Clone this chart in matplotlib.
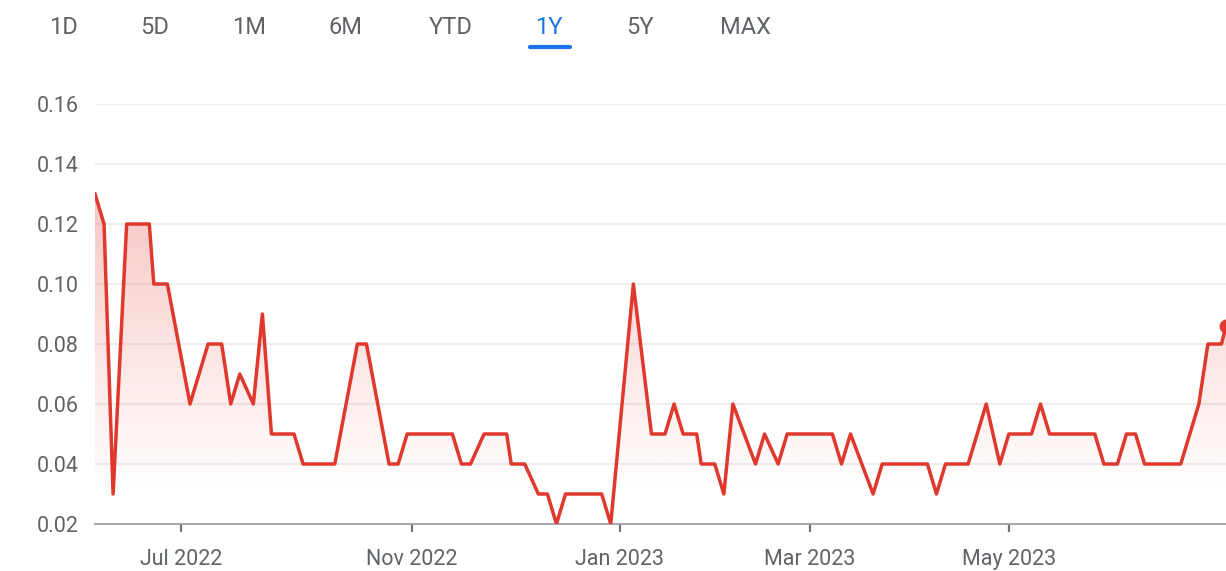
import numpy as np
import matplotlib.pyplot as plt
from matplotlib.colors import to_rgb

plt.rcParams['font.family'] = ['Roboto', 'DejaVu Sans']

# trading session index (0 = start of range) and price
sessions = [0, 2, 4, 7, 12, 13, 16, 21, 25, 28, 30, 32, 35, 37, 39, 44, 46, 53,
            58, 60, 65, 67, 69, 79, 81, 83, 86, 91, 92, 95, 98, 100, 102, 104,
            112, 114, 119, 123, 126, 128, 130, 133, 134, 137, 139, 141, 146,
            148, 151, 153, 163, 165, 167, 172, 174, 184, 186, 188, 193, 197,
            200, 202, 207, 209, 211, 221, 223, 226, 228, 230, 232, 240, 242,
            244, 246, 249, 250]
prices = [0.13, 0.12, 0.03, 0.12, 0.12, 0.10, 0.10, 0.06, 0.08, 0.08, 0.06, 0.07,
          0.06, 0.09, 0.05, 0.05, 0.04, 0.04, 0.08, 0.08, 0.04, 0.04, 0.05,
          0.05, 0.04, 0.04, 0.05, 0.05, 0.04, 0.04, 0.03, 0.03, 0.02, 0.03,
          0.03, 0.02, 0.10, 0.05, 0.05, 0.06, 0.05, 0.05, 0.04, 0.04, 0.03,
          0.06, 0.04, 0.05, 0.04, 0.05, 0.05, 0.04, 0.05, 0.03, 0.04, 0.04,
          0.03, 0.04, 0.04, 0.06, 0.04, 0.05, 0.05, 0.06, 0.05, 0.05, 0.04,
          0.04, 0.05, 0.05, 0.04, 0.04, 0.05, 0.06, 0.08, 0.08, 0.086]

x_tick_pos = [19, 70, 116, 158, 202]
x_tick_labels = ['Jul 2022', 'Nov 2022', 'Jan 2023', 'Mar 2023', 'May 2023']
y_ticks = [0.02, 0.04, 0.06, 0.08, 0.10, 0.12, 0.14, 0.16]

tabs = ['1D', '5D', '1M', '6M', 'YTD', '1Y', '5Y', 'MAX']
active_tab = '1Y'

RED = '#e0382c'
GRAY = '#5f6368'
BLUE = '#1a73e8'

W, H = 1226, 571
fig = plt.figure(figsize=(W / 100, H / 100), dpi=100)
ax = fig.add_axes([95 / W, 47 / H, 1 - 95 / W, (524 - 104) / H])

ax.set_xlim(0, 250)
ax.set_ylim(0.02, 0.16)

# gradient fill under the line, clipped to the area polygon
rgb = to_rgb(RED)
ys = np.linspace(0.02, 0.16, 300)
alpha = np.clip((ys - 0.03) / 0.10, 0, 1) * 0.28
img = np.zeros((len(ys), 1, 4))
img[:, 0, :3] = rgb
img[:, 0, 3] = alpha
poly = ax.fill_between(sessions, prices, 0.02, color='none', lw=0)
im = ax.imshow(img, extent=[0, 250, 0.02, 0.16], origin='lower',
               aspect='auto', zorder=1)
im.set_clip_path(poly.get_paths()[0], transform=ax.transData)

ax.plot(sessions, prices, color=RED, lw=2.5, solid_joinstyle='round', zorder=3)
ax.plot(sessions[-1], prices[-1], 'o', color=RED, ms=9, zorder=4)

for v in y_ticks[1:]:
    ax.axhline(v, color='#eeeeee', lw=1.6, zorder=0)

ax.set_yticks(y_ticks)
ax.set_yticklabels([f'{v:.2f}' for v in y_ticks])
ax.set_xticks(x_tick_pos)
ax.set_xticklabels(x_tick_labels)
ax.tick_params(axis='y', length=0, pad=12, labelsize=15.5, labelcolor=GRAY)
ax.tick_params(axis='x', length=6, width=1.6, color='#70757a', pad=12,
               labelsize=15.5, labelcolor=GRAY)

for s in ['top', 'right', 'left']:
    ax.spines[s].set_visible(False)
ax.spines['bottom'].set_color('#9aa0a6')
ax.spines['bottom'].set_linewidth(1.3)

# range selector tabs
tab_x = [63, 155, 249, 346, 451, 549, 640, 745]
for name, px in zip(tabs, tab_x):
    fig.text(px / W, 1 - 27 / H, name, ha='center', va='center', fontsize=17,
             color=BLUE if name == active_tab else GRAY)
ul = plt.Line2D([530 / W, 570 / W], [1 - 47 / H, 1 - 47 / H], color=BLUE,
                lw=3, solid_capstyle='round', transform=fig.transFigure)
fig.add_artist(ul)

fig.savefig('out.png', dpi=100)
